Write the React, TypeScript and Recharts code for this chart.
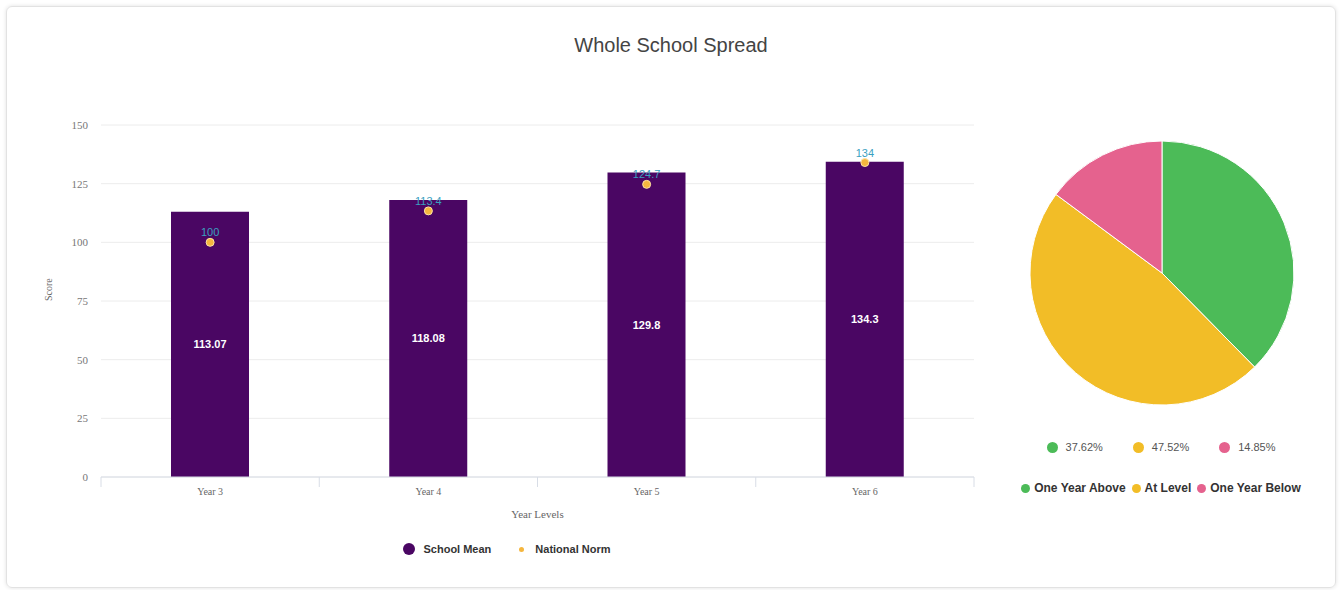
import React from 'react';
import {
  Bar,
  CartesianGrid,
  Cell,
  ComposedChart,
  LabelList,
  Legend,
  Line,
  Pie,
  PieChart,
  XAxis,
  YAxis,
} from 'recharts';

const yearLevels = ['Year 3', 'Year 4', 'Year 5', 'Year 6'];
const schoolMean = [113.07, 118.08, 129.8, 134.3];
const nationalNorm = [100, 113.4, 124.7, 134];
const scoreTicks = [0, 25, 50, 75, 100, 125, 150];

const bandNames = ['One Year Above', 'At Level', 'One Year Below'];
const bandShares = [37.62, 47.52, 14.85];
const bandColors = ['#4cbb58', '#f2bd27', '#e5628e'];

const PURPLE = '#4a0663';
const NORM = '#f5b63e';
const TEAL = '#3a9fbf';

const barData = yearLevels.map((year, i) => ({
  year,
  mean: schoolMean[i],
  norm: nationalNorm[i],
}));

const pieData = bandNames.map((name, i) => ({ name, value: bandShares[i] }));

// category ticks with divider marks at the band edges
function YearTick(props: any) {
  const { x, y, payload, index, width, visibleTicksCount } = props;
  const band = width / visibleTicksCount;
  const top = y - 8;
  return (
    <g>
      <line x1={x - band / 2} x2={x - band / 2} y1={top} y2={top + 10} stroke="#d8dde6" />
      {index === visibleTicksCount - 1 && (
        <line x1={x + band / 2} x2={x + band / 2} y1={top} y2={top + 10} stroke="#d8dde6" />
      )}
      <text x={x} y={y + 10} textAnchor="middle" fill="#666" fontSize={10} fontFamily="Liberation Serif">
        {payload.value}
      </text>
    </g>
  );
}

function BarLegend() {
  const item: React.CSSProperties = { display: 'flex', alignItems: 'center', marginRight: 24 };
  return (
    <div style={{ display: 'flex', justifyContent: 'center', fontFamily: 'Liberation Sans', fontSize: 11, fontWeight: 'bold', color: '#333' }}>
      <div style={item}>
        <span style={{ width: 12, height: 12, borderRadius: 6, background: PURPLE, marginRight: 8 }} />
        School Mean
      </div>
      <div style={{ ...item, marginRight: 0 }}>
        <span style={{ width: 5, height: 5, borderRadius: 3, background: NORM, marginRight: 11, marginLeft: 4 }} />
        National Norm
      </div>
    </div>
  );
}

function PieLegend() {
  const row: React.CSSProperties = { display: 'flex', justifyContent: 'center', alignItems: 'center' };
  return (
    <div style={{ fontFamily: 'Liberation Sans', fontSize: 11 }}>
      <div style={row}>
        {bandShares.map((share, i) => (
          <div key={share} style={{ display: 'flex', alignItems: 'center', marginRight: i < 2 ? 30 : 0, color: '#555' }}>
            <span style={{ width: 11, height: 11, borderRadius: 6, background: bandColors[i], marginRight: 8 }} />
            {share.toFixed(2)}%
          </div>
        ))}
      </div>
      <div style={{ ...row, marginTop: 28, fontSize: 12 }}>
        {bandNames.map((name, i) => (
          <div key={name} style={{ display: 'flex', alignItems: 'center', marginRight: i < 2 ? 6 : 0, fontWeight: 'bold', color: '#333' }}>
            <span style={{ width: 9, height: 9, borderRadius: 5, background: bandColors[i], marginRight: 4 }} />
            {name}
          </div>
        ))}
      </div>
    </div>
  );
}

export default function App() {
  return (
    <div style={{ position: 'absolute', left: 0, top: 0, width: 1342, height: 590, background: '#fff' }}>
      <div
        style={{
          position: 'absolute',
          left: 6,
          top: 6,
          width: 1328,
          height: 580,
          border: '1px solid #e2e2e2',
          borderRadius: 6,
          boxShadow: '0 0 4px rgba(0,0,0,0.12)',
        }}
      />
      <div
        style={{
          position: 'absolute',
          left: 0,
          top: 34,
          width: 1342,
          textAlign: 'center',
          fontFamily: 'Liberation Sans',
          fontSize: 20,
          color: '#444',
        }}
      >
        Whole School Spread
      </div>

      <div style={{ position: 'absolute', left: 0, top: 0 }}>
        <ComposedChart width={1000} height={590} data={barData} margin={{ top: 125, right: 26, bottom: 68, left: 40 }}>
          <CartesianGrid vertical={false} stroke="#ececec" />
          <XAxis
            dataKey="year"
            height={45}
            axisLine={{ stroke: '#d8dde6' }}
            tickLine={false}
            tick={<YearTick />}
            label={{ value: 'Year Levels', position: 'insideBottom', offset: 4, fill: '#666', fontSize: 11, fontFamily: 'Liberation Serif' }}
          />
          <YAxis
            width={61}
            domain={[0, 150]}
            ticks={scoreTicks}
            axisLine={false}
            tickLine={false}
            tickSize={6}
            tickMargin={7}
            tick={{ fill: '#777', fontSize: 11, fontFamily: 'Liberation Serif' }}
            label={{ value: 'Score', angle: -90, position: 'insideLeft', offset: 8, fill: '#666', fontSize: 10, fontFamily: 'Liberation Serif' }}
          />
          <Bar dataKey="mean" name="School Mean" fill={PURPLE} barSize={78} isAnimationActive={false}>
            <LabelList dataKey="mean" position="center" fill="#fff" fontSize={11} fontWeight="bold" fontFamily="Liberation Sans" />
          </Bar>
          <Line
            dataKey="norm"
            name="National Norm"
            stroke="none"
            dot={{ r: 4, fill: NORM, stroke: '#fde2a6', strokeWidth: 1 }}
            activeDot={false}
            isAnimationActive={false}
          >
            <LabelList dataKey="norm" position="top" offset={6} fill={TEAL} fontSize={11} fontFamily="Liberation Sans" />
          </Line>
          <Legend
            verticalAlign="middle"
            align="center"
            content={<BarLegend />}
            wrapperStyle={{ top: 543, left: 0, width: 1014 }}
          />
        </ComposedChart>
      </div>

      <div style={{ position: 'absolute', left: 1000, top: 0 }}>
        <PieChart width={342} height={590} margin={{ top: 0, right: 0, bottom: 0, left: 0 }}>
          <Pie
            data={pieData}
            dataKey="value"
            nameKey="name"
            cx={162}
            cy={273}
            outerRadius={132}
            startAngle={90}
            endAngle={-270}
            stroke="#fff"
            strokeWidth={1}
            isAnimationActive={false}
          >
            {pieData.map((d, i) => (
              <Cell key={d.name} fill={bandColors[i]} />
            ))}
          </Pie>
          <Legend
            verticalAlign="middle"
            align="center"
            content={<PieLegend />}
            wrapperStyle={{ top: 441, left: 0, width: 322 }}
          />
        </PieChart>
      </div>
    </div>
  );
}
